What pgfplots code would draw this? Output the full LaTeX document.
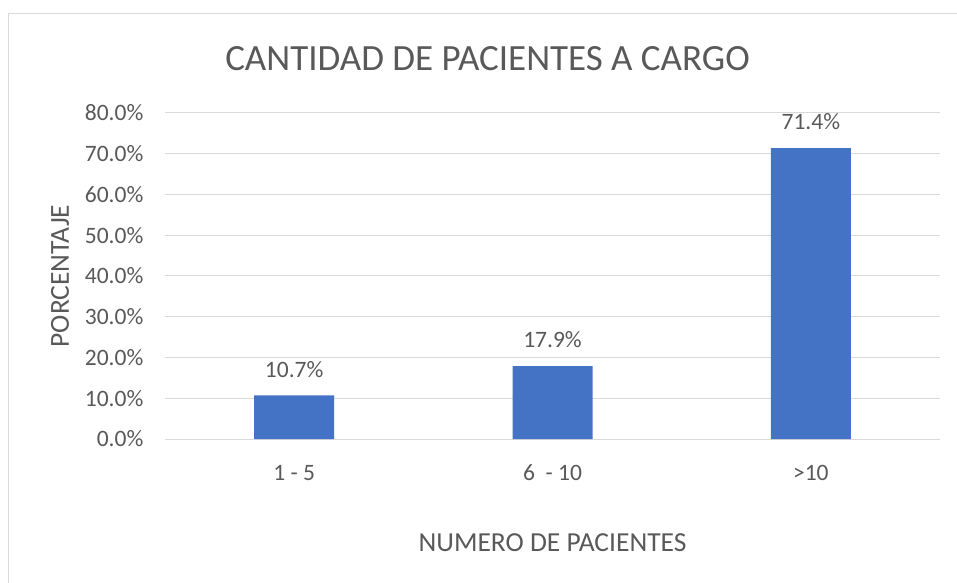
\documentclass[border=0pt]{standalone}
\usepackage{pgfplots}
\pgfplotsset{compat=1.18}
\usepackage{fontspec}
\setmainfont{Carlito}
\definecolor{txt}{HTML}{595959}
\definecolor{grd}{HTML}{D9D9D9}
\definecolor{bar}{HTML}{4472C4}
\begin{document}
\begin{tikzpicture}
\begin{axis}[
  name=ax,
  scale only axis,
  width=775bp, height=326bp,
  xmin=-0.5, xmax=2.5,
  ymin=0, ymax=80,
  ybar, bar width=80bp,
  xtick={0,1,2},
  xticklabels={1 - 5, 6\ \ - 10, >10},
  x tick label style={font=\fontsize{23.5bp}{28bp}\selectfont, text=txt, anchor=center, yshift=-32bp},
  major x tick style={draw=none},
  extra x ticks={-0.5,0.5,1.5,2.5},
  extra x tick labels={},
  extra x tick style={tick align=outside, major tick length=7bp, tick style={draw=grd, line width=1bp}, grid=none},
  ytick={0,10,...,80},
  yticklabels={0.0\%,10.0\%,20.0\%,30.0\%,40.0\%,50.0\%,60.0\%,70.0\%,80.0\%},
  y tick label style={font=\fontsize{23.5bp}{28bp}\selectfont, text=txt, xshift=-16bp},
  major y tick style={draw=none},
  ymajorgrids,
  grid style={draw=grd, line width=1bp},
  axis x line=bottom, axis y line=left,
  x axis line style={draw=grd, line width=1bp, -},
  y axis line style={draw=none},
  /pgf/number format/assume math mode=true,
  nodes near coords={\pgfmathprintnumber[fixed,fixed zerofill,precision=1]{\pgfplotspointmeta}\%},
  nodes near coords style={font=\fontsize{23.5bp}{28bp}\selectfont, text=txt, anchor=center, yshift=26bp},
  clip=false,
]
\addplot[fill=bar, draw=none] coordinates {(0,10.7) (1,17.9) (2,71.4)};
\end{axis}
\node[font=\fontsize{37bp}{44bp}\selectfont, text=txt, anchor=center] at ([xshift=487bp-552bp,yshift=54bp]ax.north) {CANTIDAD DE PACIENTES A CARGO};
\node[font=\fontsize{27.5bp}{32bp}\selectfont, text=txt, anchor=center] at ([yshift=-104bp]ax.south) {NUMERO DE PACIENTES};
\node[font=\fontsize{27.5bp}{32bp}\selectfont, text=txt, anchor=center, rotate=90] at ([xshift=-105bp]ax.west) {PORCENTAJE};
\useasboundingbox ([xshift=-165bp,yshift=-144bp]ax.south west) rectangle ([xshift=17bp,yshift=113bp]ax.north east);
\draw[grd, line width=1bp] ([xshift=-156bp,yshift=-200bp]ax.south west) rectangle ([xshift=60bp,yshift=99bp]ax.north east);
\end{tikzpicture}
\end{document}
